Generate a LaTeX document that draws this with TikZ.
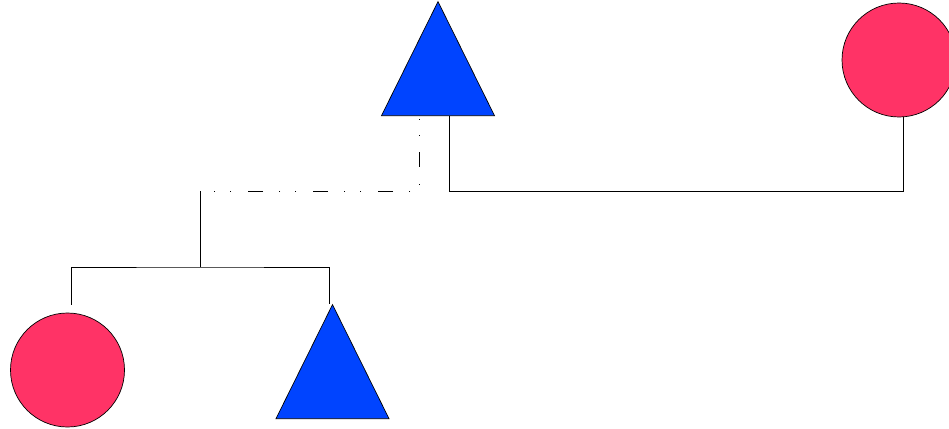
\documentclass[tikz,border=0pt]{standalone}
\usepackage{tikz}
\usetikzlibrary{positioning, shapes.geometric}
\definecolor{KinRed}{HTML}{FF3366}
\definecolor{KinBlue}{HTML}{0044FF}

\begin{document}
\begin{tikzpicture}[
  x=1pt, y=-1pt,
  female/.style={circle, draw=black, line width=0.7pt, fill=KinRed,
                 minimum size=114pt, inner sep=0pt},
  male/.style={isosceles triangle, isosceles triangle stretches,
               shape border rotate=90, draw=black, line width=0.7pt,
               fill=KinBlue, minimum width=113pt, minimum height=114pt,
               inner sep=0pt},
  link/.style={draw=black, line width=0.8pt},
  adopt/.style={link, dash pattern=on 15pt off 17pt on 1pt off 15pt on 1pt off 16pt,
                dash phase=29pt},
]
\useasboundingbox (0,0) rectangle (949,428);
\node[male, anchor=lower side] (father) at (438,116) {};
\node[female] (spouse) at (899,60) {};
\node[female] (daughter) at (67.5,370) {};
\node[male, anchor=lower side] (son) at (332.5,419) {};
\coordinate (kin) at (200,191);
\coordinate (fork) at (200,267);
% descent lines
\draw[link] ([xshift=11pt]father.lower side) -- ++(0,75) -| ([xshift=4pt]spouse.south);
\draw[adopt] ([xshift=-19pt]father.lower side) |- (kin);
\draw[link] (kin) -- (fork);
\draw[link] ([xshift=3.5pt, yshift=8pt]daughter.north) |- (fork) -| ([xshift=-3pt]son.apex);
\end{tikzpicture}
\end{document}
